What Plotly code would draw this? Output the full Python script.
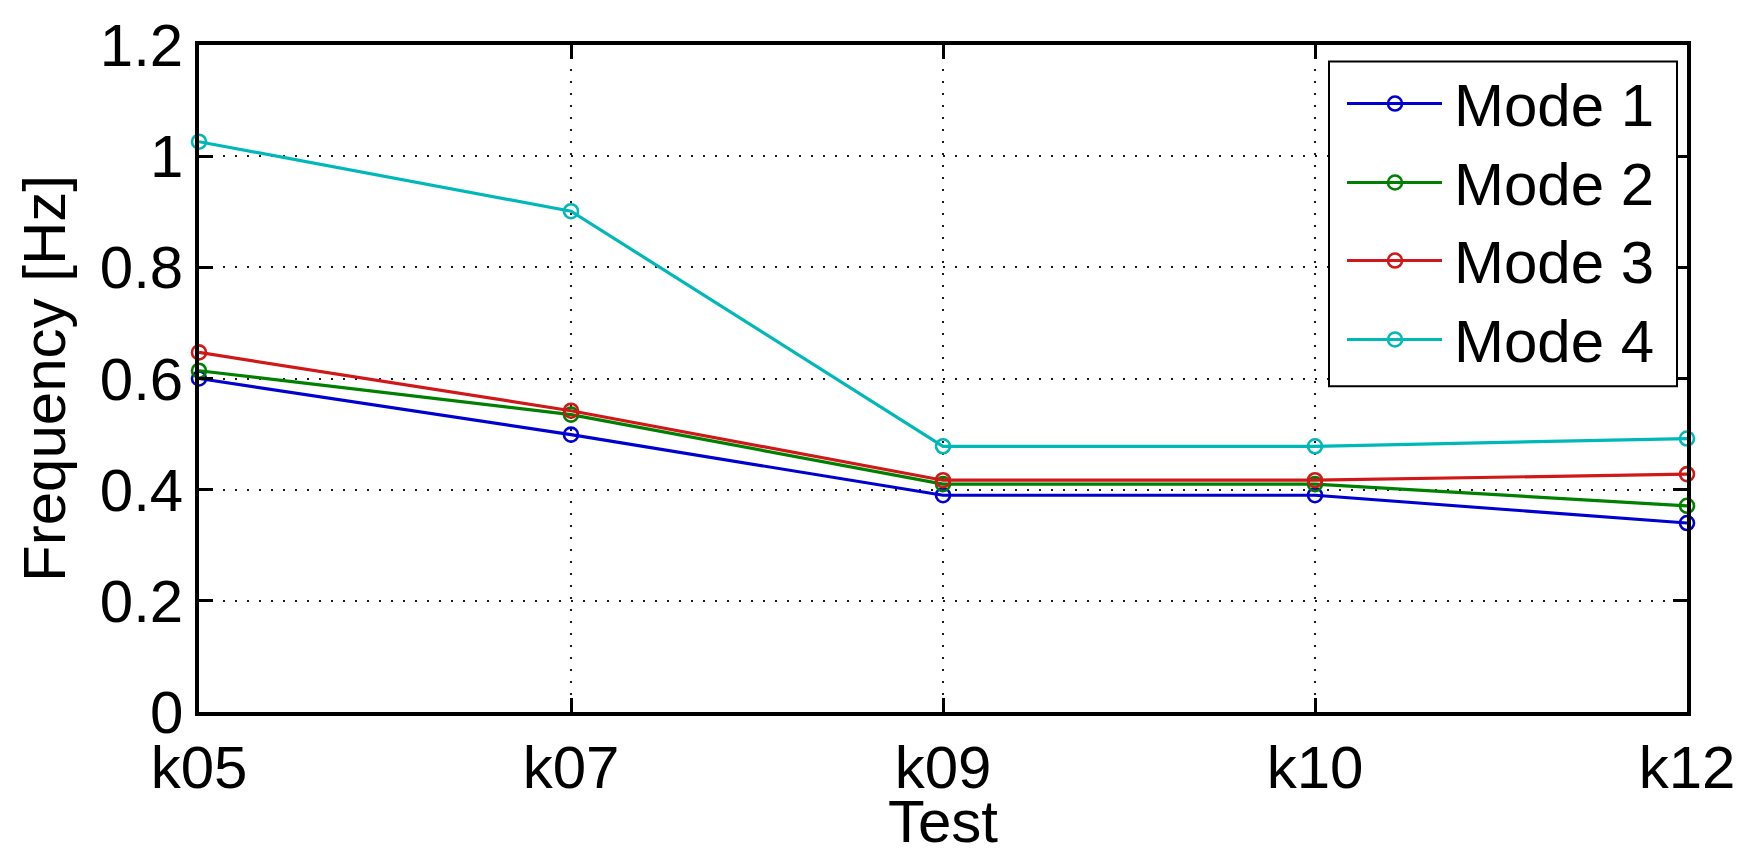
import plotly.graph_objects as go

# Test cases on the x axis
tests = ["k05", "k07", "k09", "k10", "k12"]

# Identified natural frequencies [Hz] per mode
mode1 = [0.600, 0.499, 0.390, 0.390, 0.340]
mode2 = [0.614, 0.535, 0.410, 0.410, 0.371]
mode3 = [0.647, 0.542, 0.417, 0.417, 0.428]
mode4 = [1.026, 0.901, 0.478, 0.478, 0.492]

series_names = ["Mode 1", "Mode 2", "Mode 3", "Mode 4"]
series_values = [mode1, mode2, mode3, mode4]
series_colors = ["#0000d0", "#008000", "#d01818", "#00b8b8"]

y_ticks = [0, 0.2, 0.4, 0.6, 0.8, 1.0, 1.2]

W, H = 1751, 855
L, R, T, B = 199, 64, 33, 138
FONT = "Liberation Sans, Arial, sans-serif"
LW = 3.2

fig = go.Figure()
for name, vals, col in zip(series_names, series_values, series_colors):
    fig.add_trace(go.Scatter(
        x=tests, y=vals, name=name, mode="lines+markers",
        line=dict(color=col, width=LW),
        marker=dict(symbol="circle-open", size=14, color=col, line=dict(width=2.6, color=col)),
        cliponaxis=False, showlegend=False,
    ))

# Boxed legend in the upper-right corner, drawn in paper coordinates
pw, ph = W - L - R, H - T - B
def px_x(p):
    return (p - L) / pw
def px_y(p):
    return (H - B - p) / ph

shapes = [dict(type="rect", xref="paper", yref="paper",
               x0=px_x(1329), x1=px_x(1677), y0=px_y(383), y1=px_y(50),
               line=dict(color="black", width=2), fillcolor="white", layer="above")]
annotations = []
row_y = [93, 174, 254, 335]
for name, col, ry in zip(series_names, series_colors, row_y):
    shapes.append(dict(type="line", xref="paper", yref="paper",
                       x0=px_x(1347), x1=px_x(1442), y0=px_y(ry), y1=px_y(ry),
                       line=dict(color=col, width=LW), layer="above"))
    shapes.append(dict(type="circle", xref="paper", yref="paper",
                       xsizemode="pixel", ysizemode="pixel",
                       xanchor=px_x(1395), yanchor=px_y(ry),
                       x0=-7, x1=7, y0=-7, y1=7,
                       line=dict(color=col, width=2.6), fillcolor="rgba(0,0,0,0)",
                       layer="above"))
    annotations.append(dict(xref="paper", yref="paper", x=px_x(1452), y=px_y(ry + 2),
                            xanchor="left", yanchor="middle", showarrow=False,
                            text=name, font=dict(family=FONT, size=60, color="black")))

fig.update_layout(
    width=W, height=H,
    margin=dict(l=L, r=R, t=T, b=B),
    paper_bgcolor="white", plot_bgcolor="white",
    font=dict(family=FONT, size=60, color="black"),
    shapes=shapes, annotations=annotations,
    showlegend=False,
)
fig.update_xaxes(
    type="category", range=[0, len(tests) - 1],
    showline=True, linecolor="black", linewidth=3.5, mirror="ticks",
    ticks="inside", ticklen=14, tickwidth=2.5, tickcolor="black",
    showgrid=True, gridcolor="#1a1a1a", gridwidth=1.8, griddash="2px,10px",
    tickfont=dict(family=FONT, size=60, color="black"),
    title=dict(text="Test", standoff=0, font=dict(family=FONT, size=60, color="black")),
    zeroline=False,
)
fig.update_yaxes(
    range=[0, 1.2], tickvals=y_ticks, ticktext=[f"{v:g}" for v in y_ticks],
    showline=True, linecolor="black", linewidth=3.5, mirror="ticks",
    ticks="inside", ticklen=14, tickwidth=2.5, tickcolor="black",
    showgrid=True, gridcolor="#1a1a1a", gridwidth=1.8, griddash="2px,10px",
    tickfont=dict(family=FONT, size=60, color="black"),
    ticklabelstandoff=0,
    title=dict(text="Frequency [Hz]", standoff=16, font=dict(family=FONT, size=60, color="black")),
    zeroline=False,
)

fig.write_html("out.html")
